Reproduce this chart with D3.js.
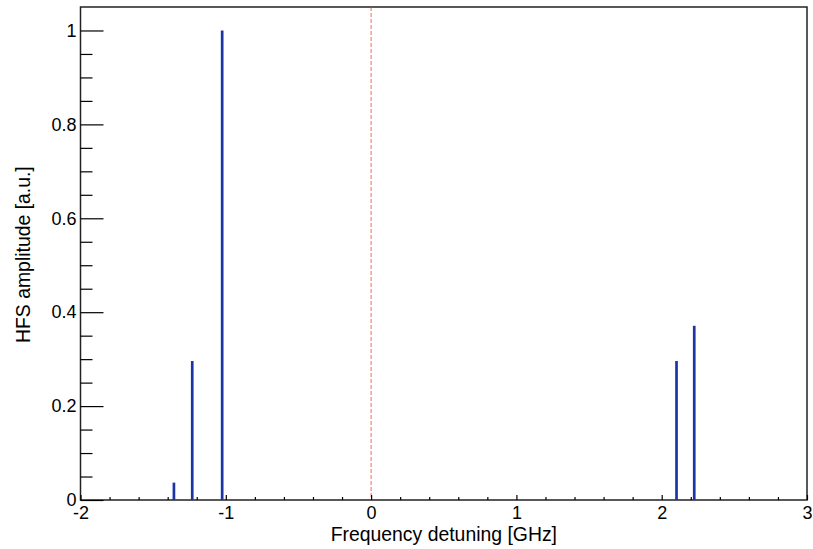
<!DOCTYPE html>
<html>
<head>
<meta charset="utf-8">
<script src="https://cdn.jsdelivr.net/npm/d3@7"></script>
<style>
  body { margin: 0; background: #fff; }
  svg { display: block; }
  .axis text { font-family: "Liberation Sans", Arial, Helvetica, sans-serif; font-size: 18px; fill: #000; }
  .axis path { display: none; }
  .axis line { stroke: #000; stroke-width: 1.2; }
  .title { font-family: "Liberation Sans", Arial, Helvetica, sans-serif; font-size: 19.4px; fill: #000; }
</style>
</head>
<body>
<svg id="chart" width="813" height="549"></svg>
<script>
// peak positions (GHz) and relative amplitudes
var freqs = [-1.357, -1.231, -1.025, 2.102, 2.224];
var amps = [0.037, 0.296, 1.0, 0.296, 0.371];

var xMajor = [-2, -1, 0, 1, 2, 3];
var xMinor = [-1.8, -1.6, -1.4, -1.2, -0.8, -0.6, -0.4, -0.2,
              0.2, 0.4, 0.6, 0.8, 1.2, 1.4, 1.6, 1.8, 2.2, 2.4, 2.6, 2.8];
var yMajor = [0, 0.2, 0.4, 0.6, 0.8, 1];
var yMinor = [0.05, 0.1, 0.15, 0.25, 0.3, 0.35, 0.45, 0.5, 0.55,
              0.65, 0.7, 0.75, 0.85, 0.9, 0.95];

var svg = d3.select('#chart');

// frame edges (note: 'top' is reserved on window)
var fLeft = 80.5, fRight = 807, fTop = 7, fBottom = 500;

var x = d3.scaleLinear().domain([-2, 3]).range([fLeft, fRight]);
var y = d3.scaleLinear().domain([0, 1.05]).range([fBottom, fTop]);

// frame
svg.append('rect')
    .attr('x', fLeft).attr('y', fTop)
    .attr('width', fRight - fLeft).attr('height', fBottom - fTop)
    .attr('fill', 'none')
    .attr('stroke', '#222')
    .attr('stroke-width', 1.5);

// dashed line at zero detuning
svg.append('line')
    .attr('x1', x(0)).attr('x2', x(0))
    .attr('y1', fTop).attr('y2', fBottom)
    .attr('stroke', '#f03a2a')
    .attr('stroke-width', 0.9)
    .attr('stroke-opacity', 0.85)
    .attr('stroke-dasharray', '4,2');

// peaks
svg.selectAll('.peak')
    .data(freqs)
    .enter()
    .append('line')
    .classed('peak', true)
    .attr('x1', function(d) { return x(d); })
    .attr('x2', function(d) { return x(d); })
    .attr('y1', y(0))
    .attr('y2', function(d, i) { return y(amps[i]); })
    .attr('stroke', '#1c34a6')
    .attr('stroke-width', 2.7);

// x axis (ticks point inward)
svg.append('g')
    .attr('class', 'axis')
    .attr('transform', 'translate(0,' + fBottom + ')')
    .call(d3.axisBottom(x).tickValues(xMajor).tickSizeInner(-5).tickSizeOuter(0)
          .tickPadding(6).tickFormat(function(d) { return String(d); }));

svg.append('g')
    .attr('class', 'axis')
    .attr('transform', 'translate(0,' + fBottom + ')')
    .call(d3.axisBottom(x).tickValues(xMinor).tickSizeInner(-3).tickSizeOuter(0)
          .tickFormat(''));

// y axis
svg.append('g')
    .attr('class', 'axis')
    .attr('transform', 'translate(' + fLeft + ',0)')
    .call(d3.axisLeft(y).tickValues(yMajor).tickSizeInner(-23).tickSizeOuter(0)
          .tickPadding(4).tickFormat(function(d) { return d === 0 || d === 1 ? String(d) : d.toFixed(1); }));

svg.append('g')
    .attr('class', 'axis')
    .attr('transform', 'translate(' + fLeft + ',0)')
    .call(d3.axisLeft(y).tickValues(yMinor).tickSizeInner(-12).tickSizeOuter(0)
          .tickFormat(''));

// axis titles
svg.append('text')
    .attr('class', 'title')
    .attr('x', 557)
    .attr('y', 541)
    .attr('text-anchor', 'end')
    .text('Frequency detuning [GHz]');

svg.append('text')
    .attr('class', 'title')
    .attr('transform', 'translate(30,343) rotate(-90)')
    .attr('text-anchor', 'start')
    .text('HFS amplitude [a.u.]');
</script>
</body>
</html>
